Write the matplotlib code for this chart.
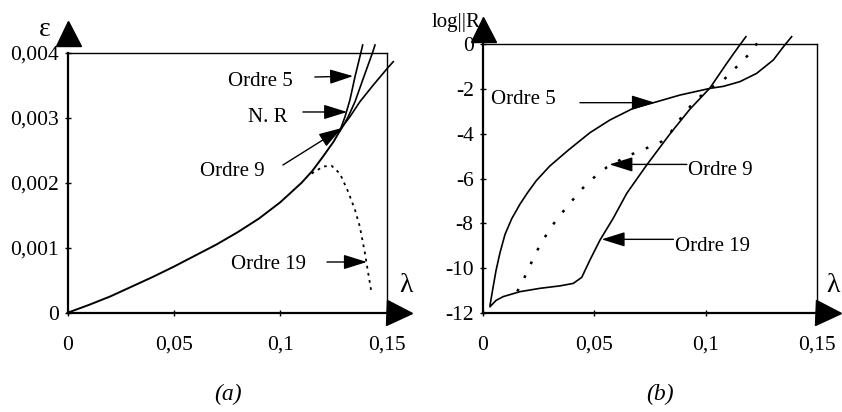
import matplotlib
matplotlib.use("Agg")
import matplotlib.pyplot as plt
from matplotlib.transforms import offset_copy
import numpy as np

plt.rcParams['font.family'] = ['Liberation Serif', 'DejaVu Serif']

# ---------------- data: panel (a) ----------------
lam_main = [0, 0.01, 0.02, 0.03, 0.04, 0.05, 0.06, 0.07, 0.08, 0.09, 0.10,
            0.105, 0.11, 0.115, 0.12, 0.125, 0.128]
eps_main = [0, 0.00012, 0.00025, 0.00040, 0.00055, 0.00071, 0.00088, 0.00105,
            0.00124, 0.00145, 0.00170, 0.00185, 0.00200, 0.00218, 0.00240,
            0.00263, 0.00280]

lam_o5 = [0.128, 0.1304, 0.1327, 0.1351, 0.1379, 0.1387]
eps_o5 = [0.00280, 0.003015, 0.003272, 0.003631, 0.004006, 0.004118]

lam_nr = [0.128, 0.1296, 0.1319, 0.1351, 0.1390, 0.1434, 0.1445]
eps_nr = [0.00280, 0.00288, 0.003015, 0.003246, 0.003606, 0.004006, 0.004118]

lam_o9 = [0.128, 0.1296, 0.1327, 0.1374, 0.1437, 0.1507, 0.1531]
eps_o9 = [0.00280, 0.00288, 0.003015, 0.003246, 0.003503, 0.003775, 0.003862]

lam_o19 = [0.1147, 0.1202, 0.1241, 0.1280, 0.1319, 0.1351, 0.1374, 0.1398,
           0.1413, 0.1429]
eps_o19 = [0.00214, 0.00225, 0.00226, 0.00214, 0.00186, 0.00158, 0.00132,
           0.00091, 0.00061, 0.00030]

# ---------------- data: panel (b) ----------------
lamR_o5 = [0.0033, 0.0045, 0.0060, 0.0078, 0.0100, 0.0130, 0.0167, 0.0200,
           0.0240, 0.0300, 0.0384, 0.0481, 0.0571, 0.0675, 0.0780, 0.0884,
           0.0974, 0.1019, 0.1079, 0.1153, 0.1228, 0.1303, 0.1348, 0.1385]
logR_o5 = [-11.66, -10.95, -10.1, -9.3, -8.5, -7.8, -7.15, -6.65,
           -6.1, -5.45, -4.73, -3.95, -3.38, -2.86, -2.57, -2.27,
           -2.07, -1.97, -1.88, -1.67, -1.3, -0.7, -0.11, 0.34]

lamR_o9 = [0.0155, 0.0182, 0.0220, 0.0257, 0.0299, 0.0335, 0.0373, 0.0410,
           0.0444, 0.0481, 0.0518, 0.0556, 0.0593, 0.0660, 0.0750, 0.0802,
           0.0840, 0.0870, 0.0899, 0.0929, 0.0974, 0.1019, 0.1079, 0.1139,
           0.1198, 0.1251]
logR_o9 = [-11.05, -10.54, -9.72, -8.97, -8.3, -7.78, -7.33, -6.88,
           -6.48, -6.1, -5.8, -5.5, -5.29, -4.95, -4.58, -4.35,
           -3.98, -3.53, -3.16, -2.79, -2.34, -1.97, -1.6, -1.0,
           -0.4, 0.34]

lamR_o19 = [0.0033, 0.0060, 0.0092, 0.0167, 0.0257, 0.0347, 0.0406, 0.0444,
            0.0481, 0.0526, 0.0585, 0.0646, 0.0735, 0.0840, 0.0929, 0.1019,
            0.1094, 0.1146, 0.1180]
logR_o19 = [-11.73, -11.45, -11.28, -11.06, -10.91, -10.8, -10.69, -10.42,
            -9.64, -8.75, -7.78, -6.66, -5.4, -4.0, -2.9, -1.95,
            -0.85, -0.12, 0.34]

x_ticks = [0, 0.05, 0.10, 0.15]
x_ticklabels = ['0', '0,05', '0,1', '0,15']
a_yticks = [0, 0.001, 0.002, 0.003, 0.004]
a_yticklabels = ['0', '0,001', '0,002', '0,003', '0,004']
b_yticks = [0, -2, -4, -6, -8, -10, -12]
b_yticklabels = ['0', '-2', '-4', '-6', '-8', '-10', '-12']

# ---------------- figure ----------------
W, H = 842, 412
fig = plt.figure(figsize=(W / 100, H / 100), dpi=100)
fig.patch.set_facecolor('white')


def px_axes(x0, y0, x1, y1):
    return fig.add_axes([x0 / W, 1 - y1 / H, (x1 - x0) / W, (y1 - y0) / H])


axA = px_axes(67.7, 52.7, 386.7, 312.7)
axB = px_axes(482.7, 44.3, 817.3, 312.7)

LW = 1.2
TICKFS = 15.5

for ax in (axA, axB):
    ax.set_xlim(0, 0.15)
    ax.set_xticks(x_ticks)
    ax.set_xticklabels(x_ticklabels)
    for s in ('left', 'bottom'):
        ax.spines[s].set_linewidth(1.6)
    for s in ('top', 'right'):
        ax.spines[s].set_linewidth(1.0)
    ax.tick_params(direction='inout', length=5, width=1, labelsize=TICKFS,
                   colors='black')
    ax.tick_params(axis='x', pad=14)
    ax.tick_params(axis='y', pad=4)
    ax.set_facecolor('white')

axA.set_ylim(0, 0.004)
axA.set_yticks(a_yticks)
axA.set_yticklabels(a_yticklabels)
axB.set_ylim(-12, 0)
axB.set_yticks(b_yticks)
axB.set_yticklabels(b_yticklabels)

# ---- panel (a) curves ----
axA.plot(lam_main, eps_main, color='black', lw=LW + 0.2, clip_on=False)
axA.plot(lam_o5, eps_o5, color='black', lw=LW, clip_on=False)
axA.plot(lam_nr, eps_nr, color='black', lw=LW, clip_on=False)
axA.plot(lam_o9, eps_o9, color='black', lw=LW, clip_on=False)
axA.plot(lam_o19, eps_o19, color='black', lw=1.3, linestyle=(0, (1.5, 2.5)),
         clip_on=False)

# ---- panel (b) curves ----
axB.plot(lamR_o5, logR_o5, color='black', lw=LW, clip_on=False)
axB.plot(lamR_o19, logR_o19, color='black', lw=LW, clip_on=False)
axB.plot(lamR_o9, logR_o9, color='black', lw=1.8, linestyle=(0, (1.1, 5.0)),
         clip_on=False)

# ---- annotations ----
ap = dict(arrowstyle='-|>,head_length=0.8,head_width=0.25', color='black',
          lw=1.0, mutation_scale=18, shrinkA=0, shrinkB=0)
TFS = 15


def label(ax, txt, tx, ty, tail, tip):
    ax.annotate('', xy=tip, xytext=tail, arrowprops=ap, annotation_clip=False)
    ax.text(tx, ty, txt, fontsize=TFS, ha='center', va='center')


label(axA, 'Ordre 5', 0.0905, 0.00355, (0.1162, 0.003626), (0.1342, 0.00364))
label(axA, 'N. R', 0.0942, 0.0030, (0.1106, 0.003088), (0.1314, 0.003088))
label(axA, 'Ordre 9', 0.0773, 0.002165, (0.1012, 0.002272), (0.1290, 0.002842))
label(axA, 'Ordre 19', 0.0942, 0.000734, (0.1219, 0.00078), (0.1407, 0.00078))

label(axB, 'Ordre 5', 0.0183, -2.49, (0.0436, -2.61), (0.0772, -2.61))
label(axB, 'Ordre 9', 0.1066, -5.62, (0.0915, -5.37), (0.0568, -5.37))
label(axB, 'Ordre 19', 0.1032, -9.06, (0.0855, -8.72), (0.0533, -8.72))

# ---- axis arrow heads ----
def axis_arrows(ax, up_off, right_off):
    tr_up = offset_copy(ax.transAxes, fig=fig, x=0, y=up_off, units='dots')
    tr_rt = offset_copy(ax.transAxes, fig=fig, x=right_off, y=0, units='dots')
    ax.plot([0], [1], marker='^', markersize=18, color='black',
            transform=tr_up, clip_on=False, zorder=5)
    ax.plot([1], [0], marker='>', markersize=18, color='black',
            transform=tr_rt, clip_on=False, zorder=5)


axis_arrows(axA, 20, 12)
axis_arrows(axB, 15, 11)

# ---- axis names and captions ----
def ftext(x, y, s, **kw):
    fig.text(x / W, 1 - y / H, s, ha='center', va='center', **kw)


ftext(45, 30, 'ε', fontsize=20)
ftext(406, 286, 'λ', fontsize=20)
ftext(456, 23, 'log||R', fontsize=15, zorder=1)
ftext(833, 286, 'λ', fontsize=20)
ftext(228, 394, '(a)', fontsize=17, style='italic')
ftext(660, 394, '(b)', fontsize=17, style='italic')

fig.savefig('out.png', dpi=100, facecolor='white')
